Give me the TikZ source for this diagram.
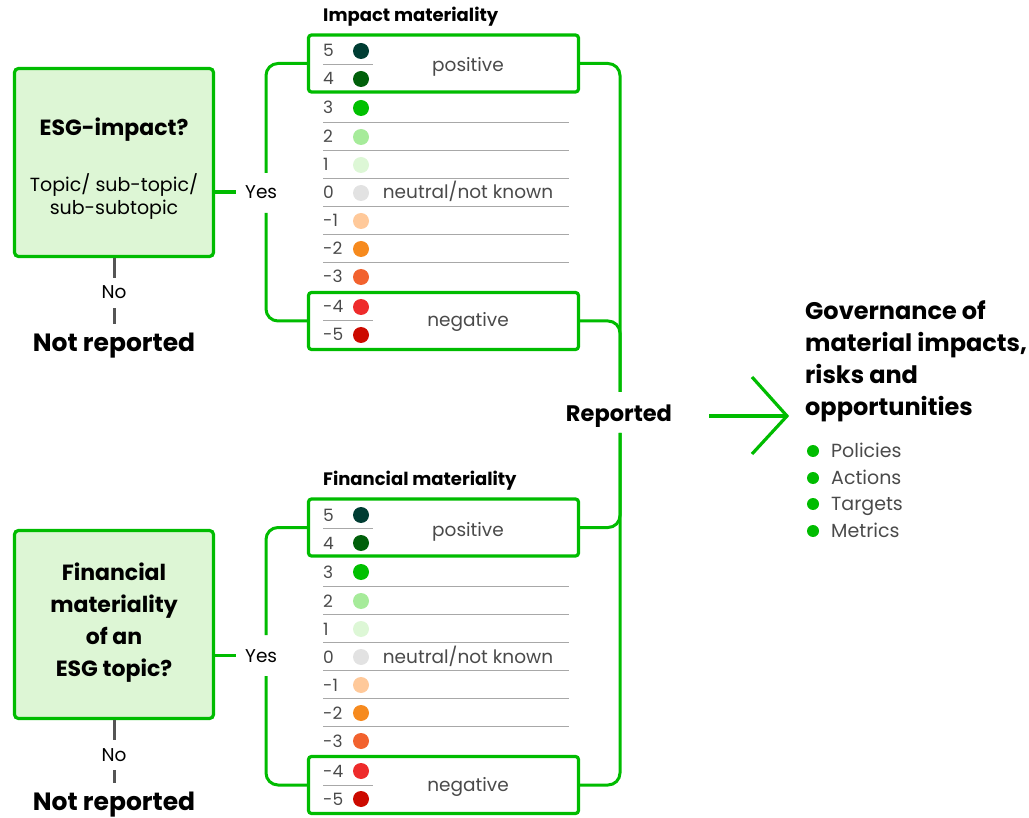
\documentclass[tikz,border=0pt]{standalone}
\usepackage{fontspec}
\setmainfont{Poppins}
\usetikzlibrary{arrows.meta}
\definecolor{grn}{HTML}{00BC00}
\definecolor{boxfill}{HTML}{DDF6D5}
\definecolor{txtgray}{HTML}{4A4A4A}
\definecolor{sepgray}{HTML}{A8A8A8}
\definecolor{linegray}{HTML}{555555}
\definecolor{cA}{HTML}{003D33}
\definecolor{cB}{HTML}{00600A}
\definecolor{cC}{HTML}{00C000}
\definecolor{cD}{HTML}{A6EB9A}
\definecolor{cE}{HTML}{DDF7D6}
\definecolor{cF}{HTML}{E2E2E2}
\definecolor{cG}{HTML}{FFC99A}
\definecolor{cH}{HTML}{F68A1E}
\definecolor{cI}{HTML}{F2622E}
\definecolor{cJ}{HTML}{EE2B2B}
\definecolor{cK}{HTML}{CC0A00}
\tikzset{
  conn/.style={draw=grn, line width=3pt, rounded corners=12pt},
  catbox/.style={draw=grn, line width=3.2pt, rounded corners=3pt, minimum width=270pt, minimum height=57pt, inner sep=0pt},
  qbox/.style={draw=grn, fill=boxfill, line width=3.2pt, rounded corners=4pt, minimum width=199pt, minimum height=188pt, inner sep=0pt},
  numtxt/.style={text=txtgray, font=\fontsize{17}{19}\selectfont, inner sep=0pt},
  dotc/.style={circle, minimum size=16pt, inner sep=0pt},
  lbl/.style={text=txtgray, font=\fontsize{18.5}{21}\selectfont, inner sep=0pt},
  sepl/.style={draw=sepgray, line width=1pt},
  ttl/.style={font=\bfseries\fontsize{18}{21}\selectfont, inner sep=0pt},
  qtitle/.style={font=\bfseries\fontsize{22}{32}\selectfont, align=center, inner sep=0pt},
  qsub/.style={font=\fontsize{19}{23}\selectfont, align=center, inner sep=0pt},
  yesno/.style={font=\fontsize{18.5}{21}\selectfont, inner sep=0pt},
  nrep/.style={font=\bfseries\fontsize{25}{28}\selectfont, inner sep=0pt},
  noline/.style={draw=linegray, line width=3pt},
  arr/.style={draw=grn, line width=3.2pt},
  gov/.style={font=\bfseries\fontsize{24}{32.3}\selectfont, align=left, inner sep=0pt},
  btxt/.style={text=txtgray, font=\fontsize{19}{21}\selectfont, inner sep=0pt},
  bdot/.style={circle, fill=grn, minimum size=12pt, inner sep=0pt}
}
\newcommand\matscale[3]{%
  \begin{scope}[shift={(0,#2)}]
    \node[ttl, anchor=base west] (#1title) at (323,21.5) {#3};
    \node[catbox] (#1pos) at (443.5,63.5) {};
    \node[catbox] (#1neg) at (443.5,321) {};
    \foreach \v/\y/\c/\n in {5/51/cA/a, 4/79/cB/b, 3/108/cC/c, 2/137/cD/d, 1/165/cE/e, 0/193/cF/f, -1/221/cG/g, -2/249/cH/h, -3/277/cI/i, -4/307/cJ/j, -5/335/cK/k}{
      \node[numtxt, anchor=base west] (#1num\n) at (323,\y+6) {\v};
      \node[dotc, fill=\c] (#1dot\n) at (361,\y) {};
    }
    \foreach \y in {122.7,150.7,178.7,206.7,234.7,262.7}{
      \draw[sepl] (323,\y) -- (569,\y);
    }
    \draw[sepl] (323,64.5) -- (373,64.5);
    \draw[sepl] (323,321) -- (373,321);
    \node[lbl, anchor=base] (#1plbl) at (468,72) {positive};
    \node[lbl, anchor=base] (#1nlbl) at (468,199) {neutral/not known};
    \node[lbl, anchor=base] (#1glbl) at (468,327) {negative};
  \end{scope}
}
\begin{document}
\begin{tikzpicture}[x=1pt,y=-1pt]
\useasboundingbox (0,0) rectangle (1029,818);
\matscale{t}{0}{Impact materiality}
\matscale{b}{464}{Financial materiality}

% top question
\node[qbox] (tq) at (114,162.5) {};
\node[qtitle, anchor=base] (tqt) at (114,136) {ESG-impact?};
\node[qsub, anchor=base] (tqs) at (114,215) {Topic/ sub-topic/\\sub-subtopic};
\node[yesno, anchor=base west, text height=13pt, text depth=0pt] (tyes) at (245,198.5) {Yes};
\draw[arr] (tq.east |- tyes) -- ([xshift=-9pt]tyes.west);
\coordinate (tyt) at (266,173);
\coordinate (tyb) at (266,213);
\draw[conn] (tpos.west) -| (tyt);
\draw[conn] (tneg.west) -| (tyb);
\node[yesno, anchor=base, text height=21pt, text depth=9pt] (tno) at (114,299) {No};
\node[nrep, anchor=base, text height=28pt] (tnr) at (114,352) {Not reported};
\draw[noline] (tq.south) -- (tno.north);
\draw[noline] (tno.south) -- (tnr.north);

% bottom question
\node[qbox] (bq) at (114,624.5) {};
\node[qtitle, anchor=base] (bqt) at (114,676) {Financial\\materiality\\of an\\ESG topic?};
\node[yesno, anchor=base west, text height=13pt, text depth=0pt] (byes) at (245,662) {Yes};
\draw[arr] (bq.east |- byes) -- ([xshift=-9pt]byes.west);
\coordinate (byt) at (266,635);
\coordinate (byb) at (266,676);
\draw[conn] (bpos.west) -| (byt);
\draw[conn] (bneg.west) -| (byb);
\node[yesno, anchor=base, text height=21pt, text depth=9pt] (bno) at (114,761) {No};
\node[nrep, anchor=base, text height=27pt] (bnr) at (114,810) {Not reported};
\draw[noline] (bq.south) -- (bno.north);
\draw[noline] (bno.south) -- (bnr.north);

% right bracket
\node[font=\bfseries\fontsize{22.5}{25}\selectfont, inner sep=0pt, anchor=base] (rep) at (619,422) {Reported};
\coordinate (rt) at (620,392);
\coordinate (rb) at (620,433);
\draw[conn] (tpos.east) -| (rt);
\draw[conn] (tneg.east) -| (rt);
\draw[conn] (bpos.east) -| (rb);
\draw[conn] (bneg.east) -| (rb);

% arrow
\coordinate (as) at (709,416);
\coordinate (ae) at (787,416);
\coordinate (aup) at (752,377);
\coordinate (adn) at (752,454);
\draw[arr] (as) -- (ae);
\draw[arr] (aup) -- (ae) -- (adn);

% governance
\node[gov, anchor=north west] (govt) at (805,300) {Governance of\\material impacts,\\risks and\\opportunities};
\foreach \t/\y/\n in {Policies/451/p, Actions/478/a, Targets/504/t, Metrics/531/m}{
  \node[bdot] (bd\n) at (813,\y) {};
  \node[btxt, anchor=base west] (bt\n) at (831,\y+6.5) {\t};
}
\end{tikzpicture}
\end{document}
